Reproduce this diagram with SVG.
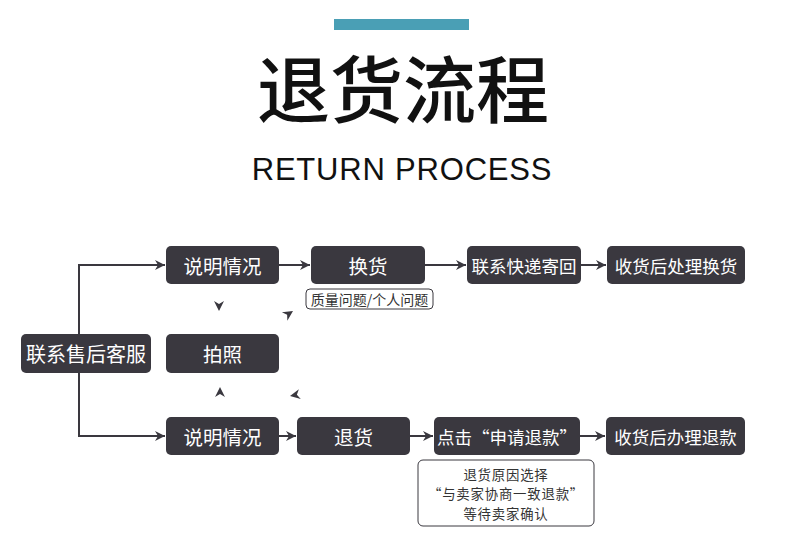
<svg xmlns="http://www.w3.org/2000/svg" width="790" height="547" viewBox="0 0 790 547">
<defs>
<style>
.node rect{fill:#3a383f;}
.node text{fill:#ffffff;font-family:"Noto Sans CJK SC","Liberation Sans",sans-serif;text-anchor:middle;dominant-baseline:central;}
.conn path{fill:none;stroke:#3a383f;stroke-width:2;}
.ah{fill:#3a383f;}
.note rect{fill:#ffffff;stroke:#3a383f;stroke-width:1;}
.note text{fill:#333333;font-family:"Noto Sans CJK SC","Liberation Sans",sans-serif;text-anchor:middle;dominant-baseline:central;font-size:14px;}
.note .multi{font-size:13.4px;letter-spacing:0.8px;}
</style>
<marker id="arr" markerUnits="userSpaceOnUse" markerWidth="12" markerHeight="12" viewBox="0 0 12 12" refX="11" refY="6" orient="auto">
<path d="M1,1 L11,6 L1,11 L4,6 Z" fill="#3a383f"/>
</marker>
<path id="head" d="M-10,-5 L0,0 L-10,5 L-7,0 Z"/>
</defs>
<rect x="334" y="19" width="135" height="11" fill="#4a9fb5"/>
<text x="403" y="117" font-family="Noto Sans CJK SC,sans-serif" font-size="73" font-weight="500" text-anchor="middle" fill="#111111">退货流程</text>
<text x="402" y="180" font-family="Liberation Sans,Arial,sans-serif" font-size="31" letter-spacing="0.8" text-anchor="middle" fill="#111111">RETURN PROCESS</text>

<g class="conn">
<path d="M79,350 V265 H165" marker-end="url(#arr)"/>
<path d="M79,350 V436 H165" marker-end="url(#arr)"/>
<path d="M279,265 H310" marker-end="url(#arr)"/>
<path d="M425,265 H466" marker-end="url(#arr)"/>
<path d="M581,265 H606" marker-end="url(#arr)"/>
<path d="M279,436 H296" marker-end="url(#arr)"/>
<path d="M410,436 H433" marker-end="url(#arr)"/>
<path d="M580,436 H605" marker-end="url(#arr)"/>
<use href="#head" class="ah" transform="translate(219,311) rotate(90)"/>
<use href="#head" class="ah" transform="translate(293,311) rotate(-33)"/>
<use href="#head" class="ah" transform="translate(220,387) rotate(-90)"/>
<use href="#head" class="ah" transform="translate(290,396) rotate(169)"/>
</g>

<g id="n-kefu" class="node"><rect x="21" y="334" width="130" height="39" rx="5"/><text x="86" y="353.5" font-size="20">联系售后客服</text></g>
<g id="n-shuoming1" class="node"><rect x="166" y="246" width="113" height="38" rx="5"/><text x="222.5" y="265" font-size="19.5">说明情况</text></g>
<g id="n-paizhao" class="node"><rect x="166" y="334" width="113" height="39" rx="5"/><text x="222.5" y="353.5" font-size="19.5">拍照</text></g>
<g id="n-shuoming2" class="node"><rect x="166" y="417" width="113" height="38" rx="5"/><text x="222.5" y="436" font-size="19.5">说明情况</text></g>
<g id="n-huanhuo" class="node"><rect x="311" y="246" width="114" height="38" rx="5"/><text x="368" y="265" font-size="19.5">换货</text></g>
<g id="n-kuaidi" class="node"><rect x="467" y="246" width="114" height="38" rx="5"/><text x="524" y="265" font-size="17.5">联系快递寄回</text></g>
<g id="n-chuli" class="node"><rect x="607" y="246" width="138" height="38" rx="5"/><text x="676" y="265" font-size="17.5">收货后处理换货</text></g>
<g id="n-tuihuo" class="node"><rect x="297" y="417" width="113" height="38" rx="5"/><text x="353.5" y="436" font-size="19.5">退货</text></g>
<g id="n-shenqing" class="node"><rect x="434" y="417" width="146" height="38" rx="5"/><text x="507" y="436" font-size="17.5">点击“申请退款”</text></g>
<g id="n-banli" class="node"><rect x="606" y="417" width="139" height="38" rx="5"/><text x="675.5" y="436" font-size="17.5">收货后办理退款</text></g>

<g id="note-zhiliang" class="note"><rect x="306" y="289" width="127" height="20" rx="4"/><text x="369.5" y="299">质量问题/个人问题</text></g>
<g id="note-yuanyin" class="note"><rect x="418" y="460" width="176" height="66" rx="5"/><text class="multi"><tspan x="506" y="473.5">退货原因选择</tspan><tspan x="506" y="493">“与卖家协商一致退款”</tspan><tspan x="506" y="512.5">等待卖家确认</tspan></text></g>
</svg>
